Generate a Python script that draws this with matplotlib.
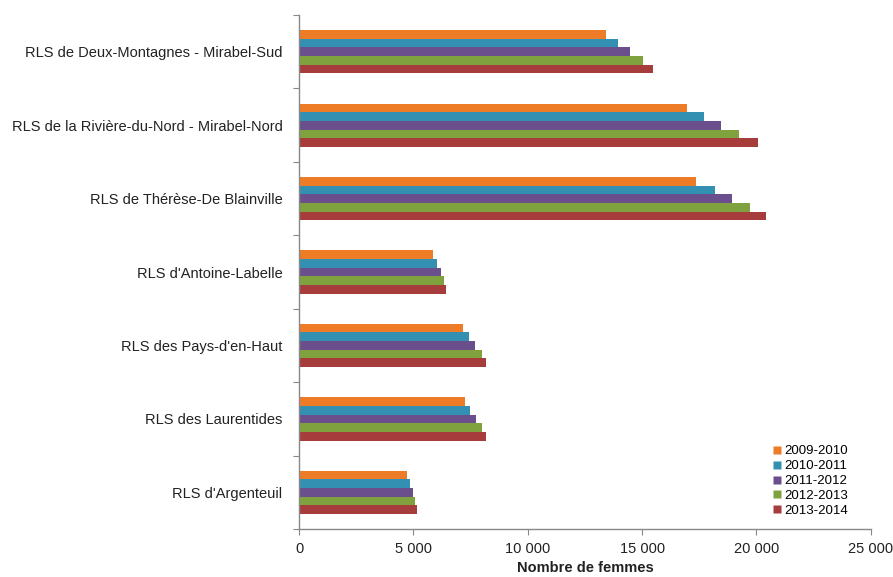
import matplotlib.pyplot as plt
import numpy as np
from matplotlib.lines import Line2D

plt.rcParams['font.family'] = ['Liberation Sans', 'DejaVu Sans']

# Regions, listed bottom to top as drawn on the y axis
regions = [
    "RLS d'Argenteuil",
    "RLS des Laurentides",
    "RLS des Pays-d'en-Haut",
    "RLS d'Antoine-Labelle",
    "RLS de Thérèse-De Blainville",
    "RLS de la Rivière-du-Nord - Mirabel-Nord",
    "RLS de Deux-Montagnes - Mirabel-Sud",
]
years = ["2009-2010", "2010-2011", "2011-2012", "2012-2013", "2013-2014"]

v_2009 = [4710, 7260, 7170, 5840, 17380, 16970, 13420]
v_2010 = [4840, 7490, 7450, 6030, 18190, 17730, 13960]
v_2011 = [4960, 7740, 7710, 6200, 18940, 18450, 14490]
v_2012 = [5060, 7990, 7990, 6350, 19700, 19260, 15030]
v_2013 = [5170, 8170, 8170, 6440, 20400, 20070, 15470]
series = [v_2009, v_2010, v_2011, v_2012, v_2013]

colors = ['#EE7B26', '#3390B2', '#6A4F8C', '#7FA23F', '#A63C3B']

fig = plt.figure(figsize=(8.93, 5.77), dpi=100)
ax = fig.add_axes([0.335, 0.083, 0.64, 0.891])

y = np.arange(len(regions))
h = 0.118
for i, (vals, col) in enumerate(zip(series, colors)):
    # first year on top within each group
    offs = (2 - i) * h
    ax.barh(y + offs, vals, height=h, color=col, edgecolor='none', label=years[i])

ax.set_xlim(0, 25000)
ax.set_ylim(-0.5, len(regions) - 0.5)
ax.set_xticks(np.arange(0, 25001, 5000))
ax.set_xticklabels([f"{v:,}".replace(",", " ") for v in range(0, 25001, 5000)], fontsize=10.5, color='#222222')

ax.set_yticks(np.arange(-0.5, len(regions), 1.0))
ax.set_yticklabels([])
ax.set_yticks(y, minor=True)
ax.set_yticklabels(regions, minor=True, fontsize=10.5, color='#222222')
ax.tick_params(axis='y', which='minor', length=0, pad=12)
ax.tick_params(axis='y', which='major', length=4, color='#888888', direction='out')
ax.tick_params(axis='x', length=4, color='#888888', direction='out', pad=5)

for s in ['top', 'right']:
    ax.spines[s].set_visible(False)
for s in ['left', 'bottom']:
    ax.spines[s].set_color('#888888')
    ax.spines[s].set_linewidth(1.0)

ax.set_xlabel("Nombre de femmes", fontsize=10.5, fontweight='bold', color='#222222', labelpad=4)

handles = [Line2D([0], [0], marker='s', linestyle='none', markersize=6,
                  markerfacecolor=c, markeredgecolor='none') for c in colors]
fig.legend(handles, years, loc='lower right', bbox_to_anchor=(0.950, 0.104), frameon=False,
           fontsize=9.5, handlelength=0.6, handletextpad=0.3, labelspacing=0.2,
           borderaxespad=0.0, borderpad=0.0)

fig.savefig("out.png", dpi=100)
